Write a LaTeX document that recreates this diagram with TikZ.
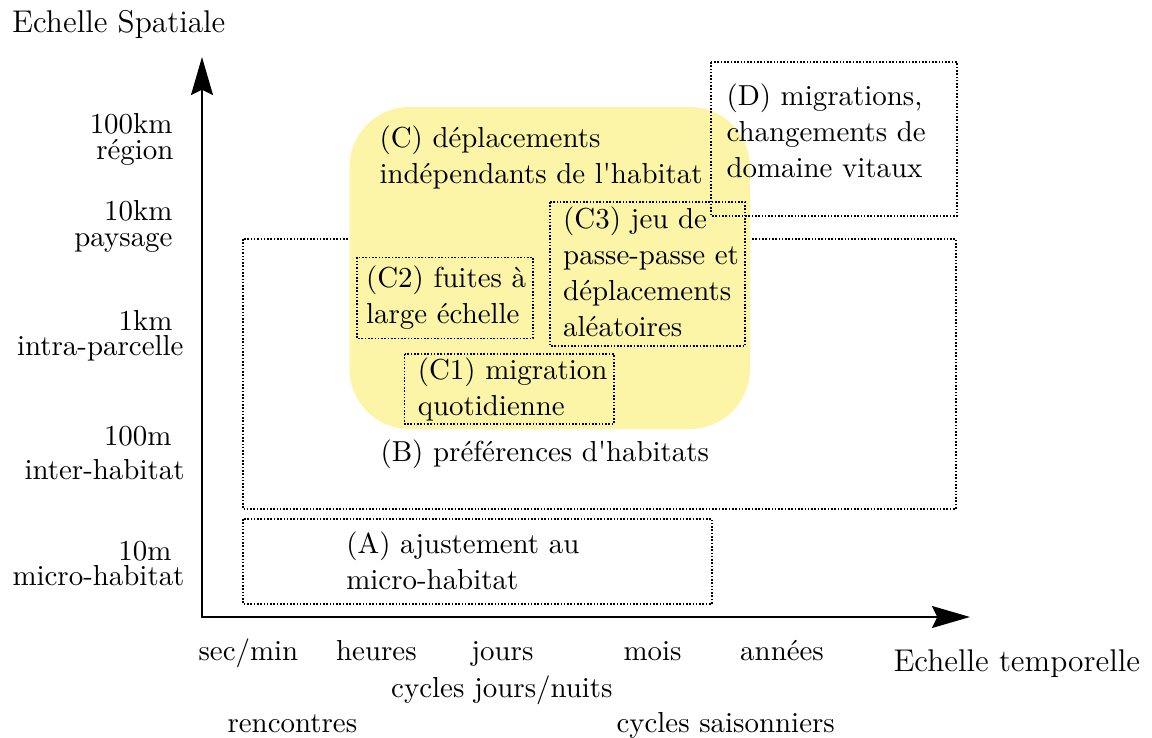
\documentclass[tikz,border=0pt]{standalone}
\usepackage{fontspec}
\setmainfont{Latin Modern Roman}[Ligatures=TeXOff]
\usetikzlibrary{arrows.meta}
\definecolor{cyel}{RGB}{252,245,168}
\begin{document}
\begin{tikzpicture}[x=0.3788pt,y=-0.3788pt,
  every node/.style={font=\fontsize{10.95}{13.6}\selectfont, inner sep=0pt},
  txt/.style={anchor=base west, align=left},
  title/.style={anchor=base west, font=\fontsize{11.9}{14}\selectfont},
  lbl/.style={anchor=base east},
  dotbox/.style={line width=0.6pt, dash pattern=on 0.6pt off 0.65pt},
  axis/.style={line width=0.8pt, {Stealth[length=14.4pt,width=8.3pt,inset=2pt]}-{Stealth[length=14.4pt,width=8.3pt,inset=2pt]}}]
\useasboundingbox (0,0) rectangle (1152,738);
% boxes behind the yellow area
\draw[dotbox] (243,239) rectangle (956,509);
\draw[dotbox] (243,519) rectangle (712,604);
% yellow area (C)
\fill[cyel, rounded corners=22.7pt] (349.5,107) rectangle (750,429);
% boxes on top
\draw[dotbox] (711,62) rectangle (957,216);
\draw[dotbox] (357,257.3) rectangle (533,338.7);
\draw[dotbox] (550,202) rectangle (745,346);
\draw[dotbox] (404.6,354) rectangle (614,424);
% axes
\coordinate (ytip) at (202,57);
\coordinate (O) at (202,617);
\coordinate (xtip) at (970,617);
\draw[axis] (ytip) -- (O) -- (xtip);
% axis titles
\node[title] (tES) at (11.7,32.3) {Echelle Spatiale};
\node[title] (tET) at (893,671.7) {Echelle temporelle};
% spatial labels
\node[lbl] (s1a) at (173,133.3) {100km};
\node[lbl] (s1b) at (174,159) {région};
\node[lbl] (s2a) at (173,220) {10km};
\node[lbl] (s2b) at (173,246.7) {paysage};
\node[lbl] (s3a) at (173,330.7) {1km};
\node[lbl] (s3b) at (184,355) {intra-parcelle};
\node[lbl] (s4a) at (172,445) {100m};
\node[lbl] (s4b) at (185,479.3) {inter-habitat};
\node[lbl] (s5a) at (172,560.7) {10m};
\node[lbl] (s5b) at (185,585) {micro-habitat};
% temporal labels
\node[txt] (t1) at (198,660.7) {sec/min};
\node[txt] (t2) at (335.6,660.7) {heures};
\node[txt] (t3) at (470.8,660.7) {jours};
\node[txt] (t4) at (623,660.7) {mois};
\node[txt] (t5) at (739.7,660.7) {années};
\node[txt] (t6) at (390.7,697.7) {cycles jours/nuits};
\node[txt] (t7) at (227,732) {rencontres};
\node[txt] (t8) at (616,732) {cycles saisonniers};
% box texts (anchored at the baseline of their last line)
\node[txt] (C) at (379,183) {(C) déplacements\\indépendants de l'habitat};
\node[txt] (C2) at (365.6,323.3) {(C2) fuites à\\large échelle};
\node[txt] (C3) at (562.7,336) {(C3) jeu de\\passe-passe et\\déplacements\\aléatoires};
\node[txt] (C1) at (417.3,415) {(C1) migration\\quotidienne};
\node[txt] (D) at (726,177.7) {(D) migrations,\\changements de\\domaine vitaux};
\node[txt] (A) at (345.8,589) {(A) ajustement au\\micro-habitat};
\node[txt] (B) at (380,461.7) {(B) préférences d'habitats};
\end{tikzpicture}
\end{document}
